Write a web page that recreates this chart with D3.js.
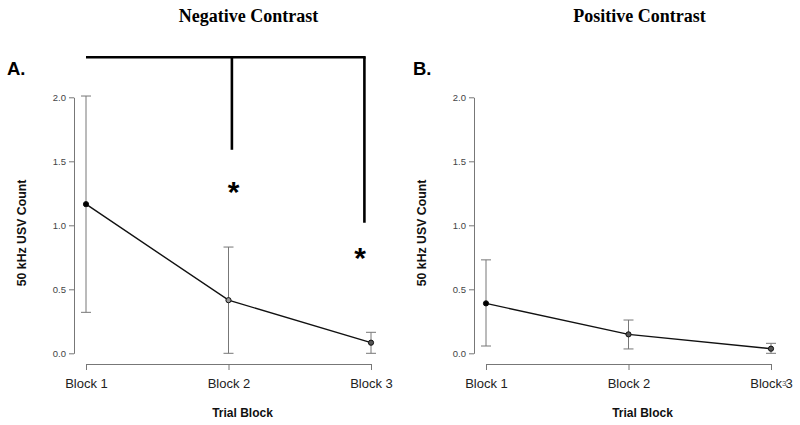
<!DOCTYPE html>
<html>
<head>
<meta charset="utf-8">
<script src="https://cdn.jsdelivr.net/npm/d3@7"></script>
<style>
  body { margin: 0; background: #fff; }
  svg { display: block; }
</style>
</head>
<body>
<svg id="chart" width="800" height="425"></svg>
<script>
// ---- data ----
const blocks = ["Block 1", "Block 2", "Block 3"];
const yTicks = [0.0, 0.5, 1.0, 1.5, 2.0];
const panelTitles = ["Negative Contrast", "Positive Contrast"];
const panelLetters = ["A.", "B."];
const negMean  = [1.165, 0.415, 0.083];
const negUpper = [2.01, 0.83, 0.164];
const negLower = [0.32, 0.0, 0.0];
const posMean  = [0.39, 0.148, 0.036];
const posUpper = [0.73, 0.26, 0.078];
const posLower = [0.057, 0.034, 0.0];
// significance bracket (panel A) in data units
const bracketTop = 2.3125;
const bracketDrops = [1.59, 1.02];   // Block 2, Block 3
const starLevels = [1.31, 0.79];

const svg = d3.select("#chart");
const y = d3.scaleLinear().domain([0, 2]).range([353.3, 97.3]);

const panels = [
  {mean: negMean, upper: negUpper, lower: negLower, off: 0},
  {mean: posMean, upper: posUpper, lower: posLower, off: 400}
];

panels.forEach((p, i) => {
  const g = svg.append("g").attr("transform", `translate(${p.off},0)`);
  const x = d3.scalePoint().domain(blocks).range([86, 371]);

  // title
  g.append("text").attr("x", i === 0 ? 248.5 : 239.5).attr("y", 22)
    .attr("text-anchor", "middle")
    .attr("font-family", "Liberation Serif, Times New Roman, serif")
    .attr("font-weight", "bold").attr("font-size", 18).attr("fill", "#000")
    .text(panelTitles[i]);

  // panel letter
  g.append("text").attr("x", i === 0 ? 7 : 13).attr("y", 75)
    .attr("font-family", "Liberation Sans, Arial, sans-serif")
    .attr("font-weight", "bold").attr("font-size", 18.5).attr("fill", "#000")
    .text(panelLetters[i]);

  // y axis
  const ya = g.append("g").attr("transform", "translate(74,0)")
    .call(d3.axisLeft(y).tickValues(yTicks).tickFormat(d3.format(".1f"))
      .tickSize(5).tickSizeOuter(0).tickPadding(3));
  ya.select(".domain").attr("stroke", "#777");
  ya.selectAll(".tick line").attr("stroke", "#777");
  ya.selectAll(".tick text").attr("font-family", "Liberation Sans, Arial, sans-serif")
    .attr("font-size", 9.5).attr("fill", "#444");

  // x axis
  const xa = g.append("g").attr("transform", "translate(0,364)")
    .call(d3.axisBottom(x).tickSize(6).tickSizeOuter(0).tickPadding(9));
  xa.select(".domain").attr("stroke", "#777");
  xa.selectAll(".tick line").attr("stroke", "#777");
  xa.selectAll(".tick text").attr("font-family", "Liberation Sans, Arial, sans-serif")
    .attr("font-size", 13).attr("fill", "#222");

  if (i === 1) {
    // the original Block 3 label carries an overlapping small "3"
    const t = xa.selectAll(".tick text").filter(d => d === "Block 3");
    t.text(null);
    t.append("tspan").text("Block");
    t.append("tspan").attr("font-size", 8).attr("dy", -2).attr("fill", "#555").text("3");
    t.append("tspan").attr("dy", 2).attr("dx", -1).text("3");
  }

  // axis titles
  g.append("text").attr("x", 242.5).attr("y", 417)
    .attr("text-anchor", "middle")
    .attr("font-family", "Liberation Sans, Arial, sans-serif")
    .attr("font-weight", "bold").attr("font-size", 12).attr("fill", "#111")
    .text("Trial Block");
  g.append("text").attr("transform", "translate(26,233) rotate(-90)")
    .attr("text-anchor", "middle")
    .attr("font-family", "Liberation Sans, Arial, sans-serif")
    .attr("font-weight", "bold").attr("font-size", 12.3).attr("fill", "#111")
    .text("50 kHz USV Count");

  // error bars
  const eb = g.append("g").attr("stroke", "#777").attr("stroke-width", 1);
  blocks.forEach((b, k) => {
    const cx = x(b);
    eb.append("line").attr("x1", cx).attr("x2", cx).attr("y1", y(p.upper[k])).attr("y2", y(p.lower[k]));
    eb.append("line").attr("x1", cx - 5).attr("x2", cx + 5).attr("y1", y(p.upper[k])).attr("y2", y(p.upper[k]));
    eb.append("line").attr("x1", cx - 5).attr("x2", cx + 5).attr("y1", y(p.lower[k])).attr("y2", y(p.lower[k]));
  });

  // mean line
  g.append("path").datum(p.mean)
    .attr("fill", "none").attr("stroke", "#111").attr("stroke-width", 1.4)
    .attr("d", d3.line().x((d, k) => x(blocks[k])).y(d => y(d)));

  // points
  g.selectAll("circle.pt").data(p.mean).enter().append("circle")
    .attr("cx", (d, k) => x(blocks[k])).attr("cy", d => y(d))
    .attr("r", 2.6)
    .attr("fill", (d, k) => k === 0 ? "#000" : (i === 0 && k === 1 ? "#999" : "#555"))
    .attr("stroke", "#111").attr("stroke-width", 1);

  if (i === 0) {
    const bx = [x("Block 1"), x("Block 2") + 3.4, x("Block 3") - 6.6];
    const br = g.append("g").attr("stroke", "#000").attr("stroke-width", 2.6).attr("fill", "none");
    br.append("line").attr("x1", bx[0]).attr("x2", bx[2] + 1.3).attr("y1", y(bracketTop)).attr("y2", y(bracketTop));
    br.append("line").attr("x1", bx[1]).attr("x2", bx[1]).attr("y1", y(bracketTop)).attr("y2", y(bracketDrops[0]));
    br.append("line").attr("x1", bx[2]).attr("x2", bx[2]).attr("y1", y(bracketTop)).attr("y2", y(bracketDrops[1]));
    [x("Block 2") + 5, x("Block 3") - 11].forEach((sx, k) => {
      g.append("text").attr("x", sx).attr("y", y(starLevels[k]) + 16)
        .attr("text-anchor", "middle")
        .attr("font-family", "Liberation Sans, Arial, sans-serif")
        .attr("font-weight", "bold").attr("font-size", 30).attr("fill", "#000")
        .text("*");
    });
  }
});
</script>
</body>
</html>
